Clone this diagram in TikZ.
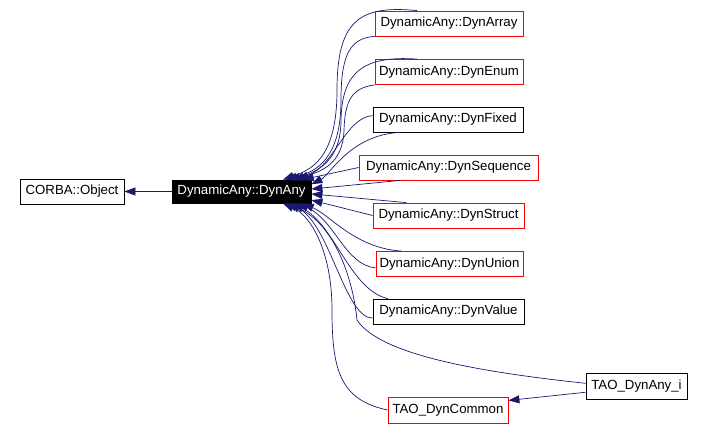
\documentclass[tikz,border=0pt]{standalone}
\usepackage{fontspec}
\setmainfont{Liberation Sans}
\usepackage{xcolor}
\usetikzlibrary{arrows.meta}
\definecolor{edgeblue}{RGB}{25,25,112}

\begin{document}
\begin{tikzpicture}[x=1pt, y=-1pt,
    classbox/.style={draw, inner sep=0pt, minimum height=25pt, line width=0.8pt,
        font=\fontsize{13.25}{15}\selectfont},
    redbox/.style={classbox, draw=red},
    inherit/.style={draw=edgeblue, line width=0.7pt, -{Triangle[length=11pt,width=8pt]}}]

        \useasboundingbox (0,0) rectangle (704,428);

        \node[classbox, minimum width=104pt] (obj) at (72,191.5) {CORBA::Object};
        \node[classbox, fill=black, text=white, minimum width=139pt, minimum height=23pt] (any) at (241.5,191.5) {DynamicAny::DynAny};
        \node[redbox, minimum width=148pt] (arr) at (449,23.5) {DynamicAny::DynArray};
        \node[redbox, minimum width=148pt] (enm) at (449,72) {DynamicAny::DynEnum};
        \node[classbox, minimum width=150pt] (fix) at (448,119.5) {DynamicAny::DynFixed};
        \node[redbox, minimum width=179pt] (seq) at (448.5,167.5) {DynamicAny::DynSequence};
        \node[redbox, minimum width=151pt] (str) at (448.5,215.5) {DynamicAny::DynStruct};
        \node[redbox, minimum width=147pt] (uni) at (449.5,264) {DynamicAny::DynUnion};
        \node[classbox, minimum width=151pt] (val) at (448.5,311.5) {DynamicAny::DynValue};
        \node[classbox, minimum width=101pt, minimum height=26pt] (tdi) at (636.5,386) {TAO\_DynAny\_i};
        \node[redbox, minimum width=120pt, minimum height=26pt] (tdc) at (448,410) {TAO\_DynCommon};

        % straight connectors
        \foreach \from/\to in
        {any.west/obj.east, seq.west/any.11, seq.195/any.2, str.163/any.-2,
         str.west/any.-7, tdi.187/tdc.9} \draw[inherit] (\from) -- (\to);

        % curved connectors into DynAny
        \foreach \from/\ax/\ay/\bx/\by/\to in
        {fix.177/345/118/335/165/any.12, fix.195/350/135/330/175/any.6,
         uni.165/355/248/330/215/any.-11, uni.183/345/265/335/220/any.-12,
         val.168/350/290/335/225/any.-13, val.185/345/318/330/225/any.-14}
        \draw[inherit] (\from) .. controls (\ax,\ay) and (\bx,\by) .. (\to);

        \draw[inherit] (arr.158) .. controls (360,5) and (337,20) .. (337,90)
            .. controls (337,160) and (310,170) .. (any.16);
        \draw[inherit] (arr.south west) .. controls (350,38) and (341,55) .. (341,100)
            .. controls (341,160) and (315,172) .. (any.15);
        \draw[inherit] (enm.158) .. controls (360,55) and (342,75) .. (341,120)
            .. controls (341,160) and (318,172) .. (any.14);
        \draw[inherit] (enm.south west) .. controls (352,88) and (345,100) .. (344,130)
            .. controls (343,165) and (320,172) .. (any.13);
        \draw[inherit] (tdi.177) .. controls (480,372) and (380,355) .. (357,320)
            .. controls (352,270) and (330,220) .. (any.-15);
        \draw[inherit] (tdc.west) .. controls (340,400) and (332,370) .. (332,310)
            .. controls (332,250) and (310,215) .. (any.-16);
        \end{tikzpicture}
\end{document}
